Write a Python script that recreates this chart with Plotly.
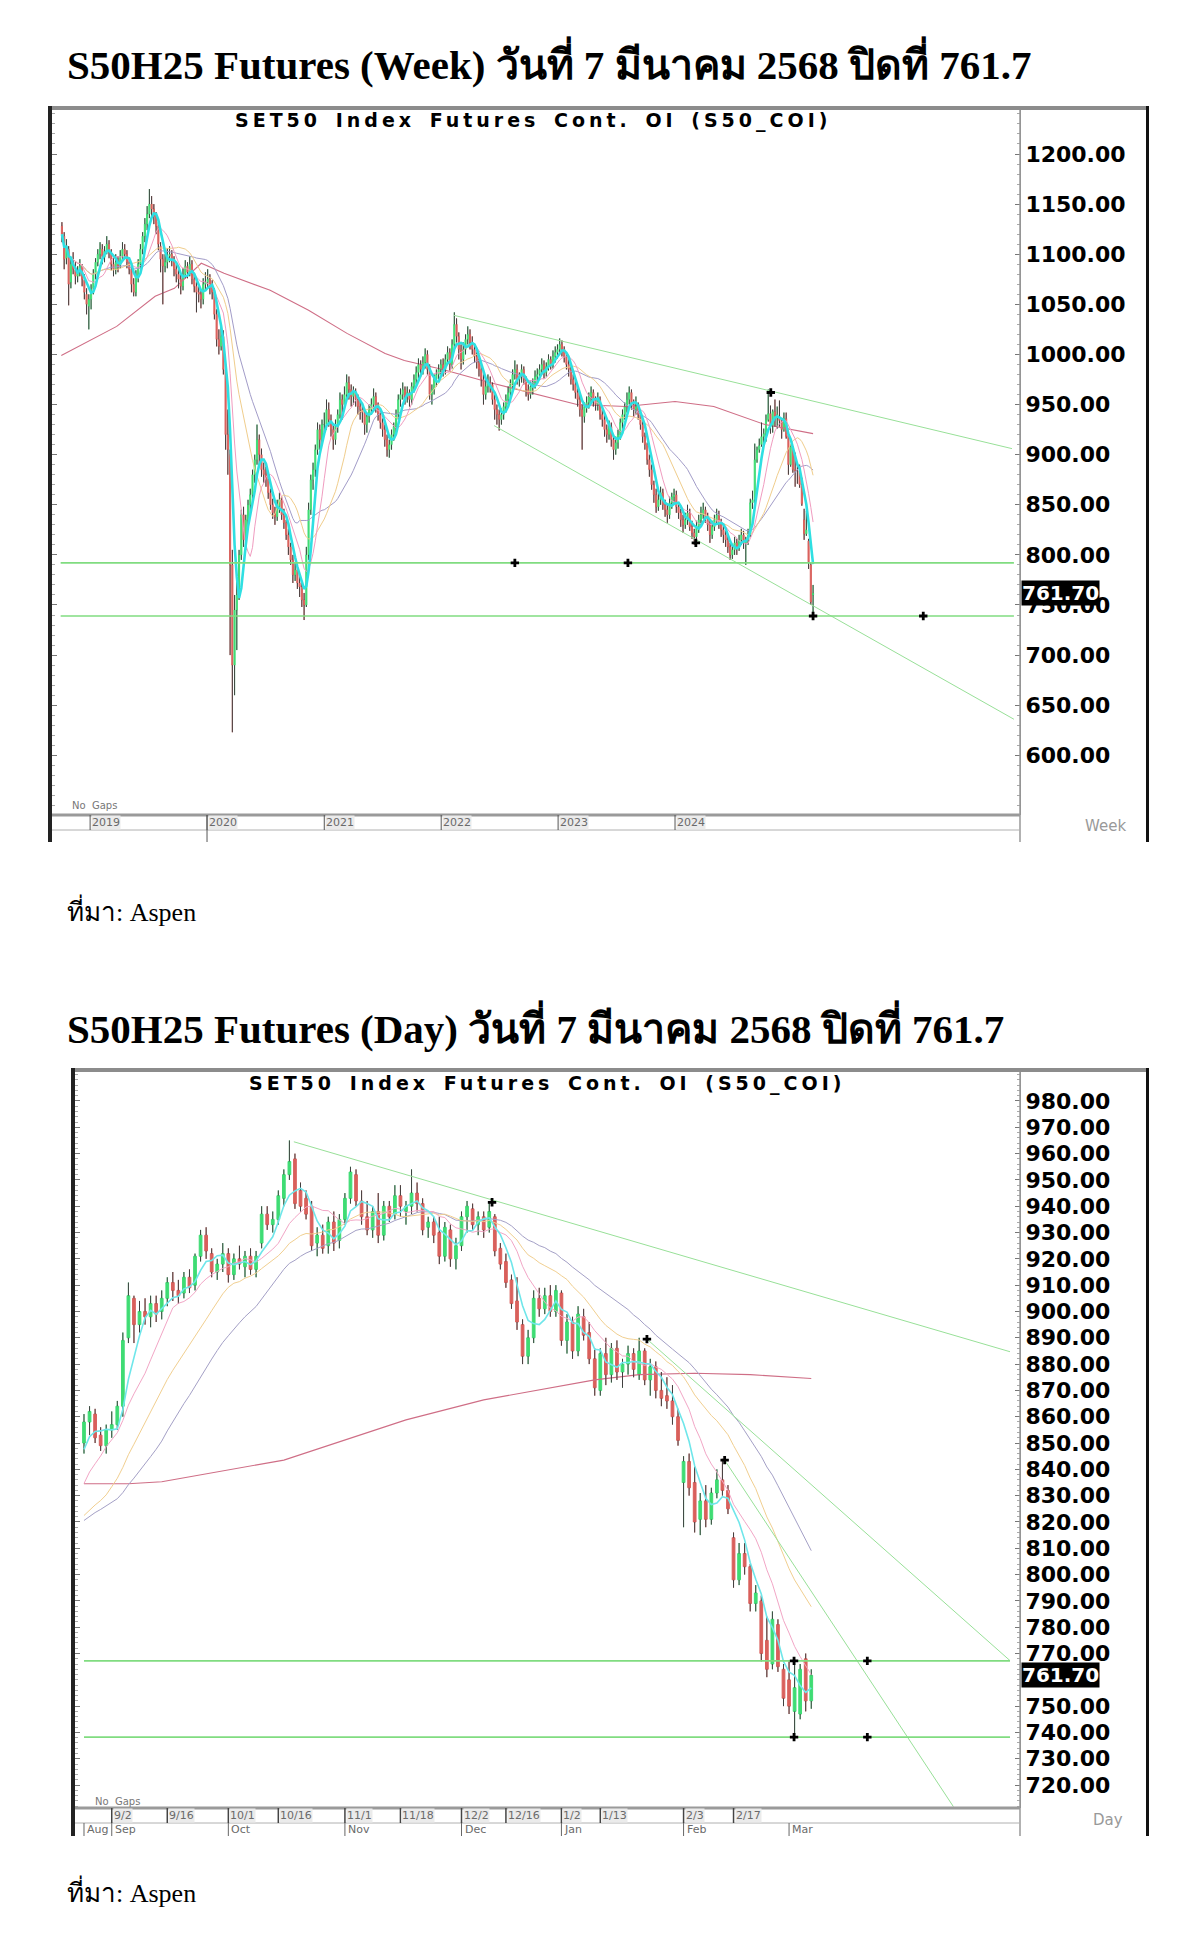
import pandas as pd
import plotly.graph_objects as go

W, H = 1200, 1936


def px(x):
    return x / W


def py(y):
    return 1 - y / H


# ---------------- WEEKLY candles (S50 continuous futures), Fridays from 2018-10-05 ----------------
w_open = [
    1128, 1118, 1096, 1105, 1072, 1090, 1084, 1078, 1083, 1087,
    1074, 1060, 1048, 1055, 1066, 1080, 1092, 1100, 1105, 1097,
    1103, 1110, 1101, 1090, 1085, 1092, 1089, 1098, 1105, 1100,
    1092, 1085, 1070, 1062, 1078, 1090, 1105, 1118, 1130, 1140,
    1150, 1145, 1138, 1128, 1108, 1095, 1088, 1092, 1098, 1100,
    1095, 1085, 1080, 1075, 1068, 1080, 1088, 1082, 1090, 1075,
    1068, 1062, 1060, 1055, 1070, 1072, 1075, 1068, 1062, 1040,
    1015, 1008, 1018, 985, 920, 900, 790, 690, 745, 760,
    800, 840, 815, 835, 850, 860, 880, 895, 915, 900,
    885, 880, 875, 862, 850, 842, 838, 848, 855, 840,
    832, 820, 808, 795, 780, 785, 772, 768, 755, 750,
    800, 845, 875, 885, 905, 925, 915, 930, 930, 945,
    935, 925, 915, 928, 940, 955, 950, 960, 972, 965,
    958, 962, 955, 948, 945, 942, 930, 938, 945, 950,
    958, 948, 940, 932, 925, 915, 905, 910, 920, 928,
    940, 955, 960, 965, 958, 962, 955, 968, 975, 982,
    990, 985, 992, 1000, 985, 960, 965, 975, 980, 985,
    990, 985, 995, 1002, 990, 1010, 1030, 1018, 1005, 995,
    1005, 1015, 1020, 1012, 1005, 998, 992, 985, 975, 960,
    968, 972, 970, 955, 945, 940, 935, 940, 948, 955,
    962, 970, 980, 985, 975, 978, 985, 975, 965, 960,
    968, 972, 978, 980, 985, 990, 982, 988, 995, 990,
    998, 1002, 1005, 1010, 1005, 998, 990, 985, 975, 970,
    962, 955, 945, 938, 948, 952, 958, 962, 955, 950,
    955, 940, 935, 925, 920, 928, 915, 905, 912, 920,
    932, 940, 948, 955, 962, 950, 945, 948, 940, 930,
    918, 910, 895, 885, 870, 860, 848, 855, 862, 850,
    845, 840, 852, 858, 860, 848, 842, 835, 830, 835,
    842, 828, 822, 818, 828, 835, 840, 845, 838, 830,
    820, 828, 835, 840, 832, 825, 820, 815, 808, 800,
    805, 812, 808, 815, 820, 812, 815, 820, 852, 855,
    895, 905, 910, 918, 921, 935, 941, 929, 943, 938,
    938, 934, 925, 936, 919, 890, 907, 885, 884, 884,
    870, 835, 821, 814, 790, 760,
]
w_high = [
    1132, 1122, 1115, 1108, 1095, 1102, 1092, 1088, 1095, 1090,
    1080, 1066, 1060, 1070, 1085, 1096, 1105, 1112, 1110, 1108,
    1118, 1114, 1105, 1096, 1100, 1098, 1104, 1112, 1110, 1104,
    1096, 1088, 1076, 1084, 1095, 1110, 1122, 1136, 1148, 1165,
    1158, 1150, 1142, 1132, 1112, 1100, 1100, 1106, 1108, 1104,
    1098, 1090, 1084, 1080, 1086, 1094, 1092, 1098, 1094, 1080,
    1072, 1068, 1064, 1076, 1082, 1085, 1080, 1074, 1066, 1045,
    1025, 1028, 1024, 990, 945, 905, 805, 760, 775, 805,
    845, 848, 840, 855, 866, 885, 900, 930, 920, 906,
    892, 888, 880, 866, 856, 848, 855, 862, 858, 846,
    835, 826, 812, 800, 792, 790, 778, 772, 762, 808,
    852, 880, 892, 910, 932, 930, 935, 942, 955, 952,
    940, 930, 935, 945, 962, 960, 968, 980, 978, 970,
    968, 966, 960, 955, 950, 946, 942, 950, 956, 966,
    962, 952, 945, 936, 930, 920, 915, 925, 932, 945,
    960, 966, 972, 968, 968, 965, 972, 980, 988, 996,
    994, 998, 1006, 1004, 990, 970, 980, 985, 990, 995,
    996, 1000, 1008, 1006, 1015, 1042, 1036, 1022, 1010, 1012,
    1020, 1028, 1025, 1018, 1010, 1002, 996, 990, 980, 975,
    980, 978, 972, 960, 950, 945, 946, 952, 960, 968,
    975, 985, 994, 990, 982, 990, 988, 978, 970, 974,
    976, 984, 986, 990, 996, 994, 992, 1000, 998, 1004,
    1008, 1010, 1016, 1014, 1008, 1002, 995, 990, 980, 974,
    966, 960, 950, 952, 958, 962, 968, 965, 958, 962,
    958, 945, 940, 930, 934, 932, 920, 918, 925, 936,
    945, 952, 962, 968, 965, 955, 958, 952, 944, 934,
    922, 912, 900, 890, 874, 866, 862, 868, 866, 855,
    850, 858, 862, 866, 864, 852, 846, 840, 842, 850,
    846, 834, 826, 834, 840, 848, 852, 848, 842, 834,
    834, 840, 846, 844, 836, 830, 824, 820, 812, 810,
    818, 816, 820, 826, 824, 818, 826, 856, 864, 911,
    908, 916, 932, 926, 940, 965, 949, 945, 955, 948,
    954, 936, 942, 942, 922, 910, 908, 902, 890, 890,
    877, 846, 844, 816, 792, 770,
]
w_low = [
    1112, 1085, 1090, 1049, 1066, 1080, 1070, 1072, 1078, 1068,
    1055, 1040, 1025, 1045, 1060, 1075, 1088, 1095, 1090, 1092,
    1100, 1096, 1084, 1078, 1080, 1082, 1086, 1094, 1095, 1086,
    1080, 1062, 1058, 1058, 1072, 1086, 1100, 1112, 1124, 1136,
    1138, 1130, 1120, 1104, 1082, 1050, 1082, 1086, 1092, 1088,
    1078, 1072, 1066, 1060, 1064, 1076, 1076, 1078, 1070, 1062,
    1042, 1052, 1046, 1050, 1064, 1066, 1060, 1055, 1035, 1008,
    1000, 1004, 980, 905, 880, 700, 623, 660, 705, 755,
    795, 808, 805, 828, 840, 855, 872, 890, 890, 878,
    872, 868, 856, 845, 836, 830, 834, 842, 835, 826,
    815, 800, 790, 772, 774, 766, 758, 748, 735, 748,
    795, 840, 865, 878, 900, 905, 910, 922, 925, 928,
    918, 905, 910, 922, 936, 935, 945, 955, 955, 948,
    950, 948, 940, 935, 932, 920, 922, 932, 940, 946,
    942, 934, 926, 918, 908, 898, 897, 905, 914, 922,
    935, 948, 955, 950, 952, 948, 950, 962, 970, 976,
    978, 980, 986, 980, 955, 950, 960, 968, 975, 980,
    978, 980, 990, 984, 986, 1006, 1012, 995, 985, 990,
    1000, 1010, 1005, 1000, 992, 986, 978, 968, 950, 955,
    962, 962, 950, 935, 930, 924, 930, 935, 942, 950,
    956, 965, 975, 970, 968, 972, 970, 958, 954, 956,
    960, 966, 972, 975, 980, 976, 978, 984, 985, 986,
    992, 996, 1000, 998, 992, 985, 978, 970, 964, 956,
    948, 938, 905, 932, 942, 946, 952, 948, 944, 944,
    935, 928, 918, 912, 915, 908, 895, 900, 906, 915,
    926, 935, 942, 950, 945, 938, 940, 935, 925, 912,
    905, 890, 878, 865, 852, 842, 844, 850, 845, 838,
    832, 836, 846, 852, 842, 836, 828, 822, 826, 830,
    824, 816, 810, 814, 822, 830, 836, 832, 824, 812,
    816, 824, 830, 826, 818, 812, 808, 802, 795, 796,
    800, 800, 804, 810, 806, 790, 810, 818, 846, 852,
    892, 902, 908, 911, 913, 933, 921, 922, 928, 926,
    928, 916, 923, 916, 880, 888, 882, 868, 871, 867,
    849, 815, 819, 786, 750, 738,
]
w_close = [
    1120, 1095, 1108, 1070, 1090, 1085, 1078, 1082, 1088, 1075,
    1062, 1050, 1055, 1065, 1080, 1092, 1100, 1105, 1098, 1103,
    1110, 1102, 1090, 1085, 1092, 1088, 1098, 1105, 1100, 1092,
    1085, 1070, 1062, 1078, 1090, 1105, 1118, 1130, 1140, 1150,
    1145, 1138, 1128, 1110, 1095, 1088, 1092, 1098, 1100, 1095,
    1085, 1080, 1075, 1068, 1080, 1088, 1082, 1090, 1075, 1068,
    1062, 1060, 1055, 1070, 1072, 1075, 1068, 1062, 1040, 1015,
    1008, 1018, 985, 920, 905, 790, 690, 745, 760, 800,
    840, 815, 835, 850, 860, 880, 895, 915, 900, 885,
    880, 875, 862, 850, 842, 838, 848, 855, 840, 832,
    820, 808, 795, 780, 785, 772, 768, 755, 750, 800,
    845, 875, 885, 905, 925, 915, 930, 930, 945, 935,
    925, 915, 928, 940, 955, 950, 960, 972, 965, 958,
    962, 955, 948, 945, 942, 930, 938, 945, 950, 958,
    948, 940, 932, 925, 915, 905, 910, 920, 928, 940,
    955, 960, 965, 958, 962, 955, 968, 975, 982, 990,
    985, 992, 1000, 985, 960, 965, 975, 980, 985, 990,
    985, 995, 1002, 990, 1010, 1030, 1018, 1005, 995, 1005,
    1015, 1020, 1012, 1005, 998, 992, 985, 975, 960, 968,
    972, 970, 955, 945, 940, 935, 940, 948, 955, 962,
    970, 980, 985, 975, 978, 985, 975, 965, 960, 968,
    972, 978, 980, 985, 990, 982, 988, 995, 990, 998,
    1002, 1005, 1010, 1005, 998, 990, 985, 975, 970, 962,
    955, 945, 938, 948, 952, 958, 962, 955, 950, 955,
    940, 935, 925, 920, 928, 915, 905, 912, 920, 932,
    940, 948, 955, 962, 950, 945, 948, 940, 930, 918,
    910, 895, 885, 870, 860, 848, 855, 862, 850, 845,
    840, 852, 858, 860, 848, 842, 835, 830, 835, 842,
    828, 822, 818, 828, 835, 840, 845, 838, 830, 820,
    828, 835, 840, 832, 825, 820, 815, 808, 800, 805,
    812, 808, 815, 820, 812, 815, 820, 852, 855, 895,
    905, 909, 918, 921, 935, 941, 929, 943, 938, 940,
    934, 925, 936, 918, 890, 908, 885, 884, 884, 870,
    851, 821, 825, 793, 753, 761.7,
]
w_dates = pd.date_range("2018-10-05", periods=len(w_close), freq="W-FRI")

# long weekly average line
wl_dates = ["2018-10-03", "2019-01-01", "2019-03-25", "2019-07-23", "2019-09-21", "2019-12-14",
            "2020-02-23", "2020-07-16", "2020-11-13", "2021-03-13", "2021-07-10", "2021-09-08",
            "2022-01-06", "2022-06-01", "2022-11-01", "2023-03-01", "2023-08-01", "2024-01-01",
            "2024-05-01", "2024-10-08", "2025-03-07"]
wl_vals = [999, 1014, 1028, 1058, 1066, 1091, 1081, 1064, 1044, 1021, 1001, 994,
           985, 972, 960, 950, 948, 953, 948, 930, 921]

# weekly drawn lines
w_upper_x = ["2022-02-10", "2026-11-18"]
w_upper_y = [1039, 906]
w_lower_x = ["2022-06-15", "2026-11-24"]
w_lower_y = [929, 636]
w_levels = [792, 739]
w_level_x = ["2018-10-01", "2026-11-24"]
w_mark_x = ["2022-08-19", "2023-08-07", "2025-03-07", "2026-02-14", "2024-03-06", "2024-10-26"]
w_mark_y = [792, 792, 739, 739, 812, 962]
w_year_ticks = ["2019-01-01", "2020-01-01", "2021-01-01", "2022-01-01", "2023-01-01", "2024-01-01"]
w_year_labels = ["2019", "2020", "2021", "2022", "2023", "2024"]
w_price_ticks = [600, 650, 700, 750, 800, 850, 900, 950, 1000, 1050, 1100, 1150, 1200]

# ---------------- DAILY candles, trading-day index 0 = 26 Aug 2024 ----------------
d_open = [
    850, 858, 861, 853, 849, 855, 857, 864, 890, 905,
    895, 900, 898, 903, 900, 905, 911, 908, 907, 913,
    910, 921, 929, 922, 915, 918, 922, 914, 920, 917,
    921, 916, 926, 937, 933, 935, 943, 952, 958, 946,
    943, 940, 926, 929, 925, 934, 927, 935, 943, 952,
    942, 936, 931, 938, 929, 940, 937, 944, 938, 940,
    945, 941, 932, 934, 930, 921, 931, 920, 925, 936,
    939, 933, 936, 932, 936, 924, 919, 912, 904, 895,
    883, 890, 905, 901, 906, 900, 907, 889, 896, 885,
    898, 892, 882, 870, 884, 876, 886, 877, 880, 884,
    876, 885, 874, 879, 870, 868, 866, 860, 835, 843,
    835, 821, 828, 821, 831, 836, 832, 814, 798, 808,
    803, 789, 790, 775, 766, 781, 764, 760, 748, 747, 768, 752,
]
d_high = [
    861, 864, 863, 856, 857, 862, 866, 892, 911, 906,
    904, 905, 906, 906, 908, 913, 915, 912, 915, 916,
    922, 931, 932, 924, 920, 926, 924, 922, 925, 923,
    924, 923, 940, 940, 938, 946, 954, 965, 960, 949,
    946, 942, 932, 933, 936, 938, 937, 945, 955, 954,
    946, 942, 940, 945, 942, 942, 948, 948, 942, 954,
    949, 943, 936, 936, 936, 934, 933, 928, 938, 942,
    941, 938, 938, 942, 937, 926, 922, 914, 913, 897,
    893, 908, 909, 909, 910, 910, 908, 899, 898, 902,
    901, 896, 886, 886, 890, 888, 889, 882, 887, 886,
    890, 886, 882, 881, 877, 875, 872, 863, 845, 846,
    841, 831, 834, 833, 840, 844, 834, 816, 812, 812,
    804, 796, 792, 784, 786, 783, 766, 767, 767, 766, 770, 764,
]
d_low = [
    846, 853, 850, 847, 846, 852, 855, 860, 888, 888,
    892, 895, 894, 896, 897, 902, 904, 903, 905, 907,
    908, 919, 920, 913, 912, 915, 911, 912, 916, 913,
    914, 913, 924, 931, 930, 933, 940, 950, 939, 938,
    935, 923, 921, 922, 922, 923, 924, 933, 941, 940,
    933, 929, 928, 926, 927, 934, 935, 936, 933, 937,
    938, 929, 928, 926, 918, 919, 917, 916, 923, 930,
    931, 929, 928, 930, 921, 916, 909, 901, 893, 880,
    880, 888, 898, 899, 898, 898, 887, 884, 882, 883,
    889, 880, 868, 868, 872, 873, 874, 871, 876, 875,
    874, 872, 868, 867, 864, 863, 857, 849, 818, 830,
    816, 815, 818, 819, 829, 830, 823, 795, 796, 800,
    786, 786, 767, 761, 764, 763, 750, 747, 738, 745, 748, 749,
]
d_close = [
    858, 862, 852, 849, 855, 857, 864, 889, 906, 895,
    900, 898, 903, 899, 905, 911, 908, 906, 913, 909,
    921, 929, 923, 915, 918, 922, 914, 920, 918, 921,
    916, 921, 937, 933, 935, 944, 952, 957, 941, 940,
    937, 925, 929, 924, 934, 926, 935, 943, 953, 942,
    936, 931, 938, 929, 940, 936, 944, 940, 940, 945,
    941, 931, 934, 929, 921, 932, 920, 925, 936, 940,
    933, 936, 931, 938, 923, 918, 911, 903, 896, 883,
    890, 905, 901, 906, 900, 908, 889, 896, 885, 899,
    891, 882, 871, 884, 876, 886, 877, 880, 884, 878,
    885, 874, 879, 870, 867, 866, 860, 851, 843, 833,
    820, 828, 821, 831, 836, 832, 825, 798, 808, 803,
    789, 793, 770, 764, 783, 765, 753, 750, 757, 764, 752, 761.7,
]
# closes of the 50 sessions before the first visible day (only feed the averages)
d_prior_close = [
    812, 806, 803, 801, 800, 802, 806, 804, 807, 805,
    808, 810, 812, 809, 812, 810, 806, 808, 811, 808,
    812, 814, 810, 813, 815, 818, 821, 819, 816, 820,
    822, 818, 816, 815, 812, 795, 800, 806, 810, 815,
    816, 818, 821, 819, 820, 830, 838, 842, 848, 852,
]
d_idx = list(range(len(d_close)))

# long daily average line
dl_idx = [0, 8, 14, 36, 58, 72, 92, 100, 110, 120, 131]
dl_vals = [834.5, 834.5, 835.3, 843.5, 858.8, 866.4, 874.0, 876.0, 876.5, 876.0, 874.5]

# daily drawn lines
d_tl1_x, d_tl1_y = [37.8, 166.8], [964.5, 884.7]
d_tl2_x, d_tl2_y = [101.4, 166.8], [889.5, 767.3]
d_tl3_x, d_tl3_y = [115.4, 156.6], [843.5, 711.8]
d_levels = [767.2, 738.2]
d_level_x = [0, 166.8]
d_mark_x = [73.5, 101.4, 115.4, 127.9, 141.1, 127.9, 141.1]
d_mark_y = [941.5, 889.5, 843.5, 767.2, 767.2, 738.2, 738.2]
d_day_ticks = [5, 15, 26, 35, 47, 57, 68, 76, 86, 93, 108, 117]
d_day_labels = ["9/2", "9/16", "10/1", "10/16", "11/1", "11/18", "12/2", "12/16", "1/2", "1/13", "2/3", "2/17"]
d_month_ticks = [0, 5, 26, 47, 68, 86, 108, 127]
d_month_labels = ["Aug", "Sep", "Oct", "Nov", "Dec", "Jan", "Feb", "Mar"]
# 760.00 sits under the last-price tag in the reference, so it is not printed
d_price_ticks = [720, 730, 740, 750, 770, 780, 790, 800, 810, 820, 830, 840, 850, 860,
                 870, 880, 890, 900, 910, 920, 930, 940, 950, 960, 970, 980]

last_close = 761.7

# ---------------- styles ----------------
UP = "#3fdc74"
DN = "#d9605c"
WICK = "#404040"
W_MA = [(30, "#a29cc8", 1), (20, "#f0cd8c", 1), (10, "#f09cc0", 1), (5, "#2fdfe2", 2.6)]
D_MA = [(30, "#a4a0c6", 1), (20, "#f1cf90", 1), (10, "#f2a6c6", 1), (5, "#6fe6ea", 1.6)]
LONG_COL = "#cf6e86"
GREEN_LINE = "#98e098"
LEVEL_LINE = "#80dc80"
TICK_FONT = dict(family="DejaVu Sans", size=22, color="black", weight="bold")

fig = go.Figure()


def wick_xy(xs, o, h, l, c):
    X, Y = [], []
    for x, oo, hh, ll, cc in zip(xs, o, h, l, c):
        top, bot = max(oo, cc), min(oo, cc)
        X += [x, x, None, x, x, None]
        Y += [hh, top, None, bot, ll, None]
    return X, Y


def add_panel(xs, o, h, l, c, ma_source, ma_offset, ma_spec, long_x, long_y, xa, ya):
    fig.add_trace(go.Scatter(x=long_x, y=long_y, mode="lines", line=dict(color=LONG_COL, width=1.1),
                             xaxis=xa, yaxis=ya, showlegend=False, hoverinfo="skip"))
    fig.add_trace(go.Candlestick(x=xs, open=o, high=h, low=l, close=c, xaxis=xa, yaxis=ya,
                                 increasing=dict(line=dict(color=UP, width=1), fillcolor=UP),
                                 decreasing=dict(line=dict(color=DN, width=1), fillcolor=DN),
                                 whiskerwidth=0, showlegend=False, hoverinfo="skip"))
    wx, wy = wick_xy(xs, o, h, l, c)
    fig.add_trace(go.Scatter(x=wx, y=wy, mode="lines", line=dict(color=WICK, width=1),
                             xaxis=xa, yaxis=ya, showlegend=False, hoverinfo="skip"))
    s = pd.Series(ma_source, dtype=float)
    for n, col, wd in ma_spec:
        ma = s.rolling(n, min_periods=1).mean().iloc[ma_offset:].tolist()
        fig.add_trace(go.Scatter(x=list(xs), y=ma, mode="lines", line=dict(color=col, width=wd),
                                 xaxis=xa, yaxis=ya, showlegend=False, hoverinfo="skip"))


# weekly panel
add_panel(list(w_dates), w_open, w_high, w_low, w_close, w_close, 0, W_MA, wl_dates, wl_vals, "x", "y")
for lx, ly in [(w_upper_x, w_upper_y), (w_lower_x, w_lower_y)]:
    fig.add_trace(go.Scatter(x=lx, y=ly, mode="lines", line=dict(color=GREEN_LINE, width=1),
                             xaxis="x", yaxis="y", showlegend=False, hoverinfo="skip"))
for lv in w_levels:
    fig.add_trace(go.Scatter(x=w_level_x, y=[lv, lv], mode="lines", line=dict(color=LEVEL_LINE, width=1.6),
                             xaxis="x", yaxis="y", showlegend=False, hoverinfo="skip"))
fig.add_trace(go.Scatter(x=w_mark_x, y=w_mark_y, mode="markers",
                         marker=dict(symbol="cross", size=7, color="black"),
                         xaxis="x", yaxis="y", showlegend=False, hoverinfo="skip"))

# daily panel
add_panel(d_idx, d_open, d_high, d_low, d_close, d_prior_close + d_close, len(d_prior_close), D_MA,
          dl_idx, dl_vals, "x2", "y2")
for lx, ly in [(d_tl1_x, d_tl1_y), (d_tl2_x, d_tl2_y), (d_tl3_x, d_tl3_y)]:
    fig.add_trace(go.Scatter(x=lx, y=ly, mode="lines", line=dict(color=GREEN_LINE, width=1),
                             xaxis="x2", yaxis="y2", showlegend=False, hoverinfo="skip"))
for lv in d_levels:
    fig.add_trace(go.Scatter(x=d_level_x, y=[lv, lv], mode="lines", line=dict(color=LEVEL_LINE, width=1.6),
                             xaxis="x2", yaxis="y2", showlegend=False, hoverinfo="skip"))
fig.add_trace(go.Scatter(x=d_mark_x, y=d_mark_y, mode="markers",
                         marker=dict(symbol="cross", size=7, color="black"),
                         xaxis="x2", yaxis="y2", showlegend=False, hoverinfo="skip"))


# ---------------- axes ----------------
def yaxis_cfg(domain, rng, ticks, minor_dtick, anchor):
    return dict(domain=domain, range=rng, side="right", anchor=anchor, tickmode="array", tickvals=ticks,
                ticktext=[f"{v:.2f}" for v in ticks], tickfont=TICK_FONT, showgrid=False, zeroline=False,
                showline=True, linecolor="#8c8c8c", linewidth=1, ticks="inside", ticklen=5,
                tickcolor="#777", mirror="ticks", fixedrange=True,
                minor=dict(tickmode="linear", tick0=0, dtick=minor_dtick, ticks="inside", ticklen=3,
                           tickcolor="#aaaaaa"))


fig.update_layout(
    width=W, height=H, margin=dict(l=0, r=0, t=0, b=0),
    paper_bgcolor="white", plot_bgcolor="white", showlegend=False,
    xaxis=dict(domain=[px(52), px(1020)], anchor="y", type="date",
               range=["2018-09-04", "2026-12-13"], showgrid=False, zeroline=False,
               showticklabels=False, ticks="", showline=False, rangeslider=dict(visible=False),
               fixedrange=True),
    yaxis=yaxis_cfg([py(815), py(110)], [540.45, 1243.9], w_price_ticks, 10, "x"),
    xaxis2=dict(domain=[px(75), px(1020)], anchor="y2", range=[-1.62, 168.6], showgrid=False,
                zeroline=False, showticklabels=False, ticks="", showline=False,
                rangeslider=dict(visible=False), fixedrange=True),
    yaxis2=yaxis_cfg([py(1808), py(1072)], [711.28, 991.02], d_price_ticks, 2, "x2"),
)

# ---------------- frames & bands ----------------
shapes = []


def rect(x0, y0, x1, y1, color):
    shapes.append(dict(type="rect", xref="paper", yref="paper", x0=px(x0), x1=px(x1), y0=py(y0), y1=py(y1),
                       fillcolor=color, line=dict(width=0), layer="above"))


def hline(x0, x1, y, color, width):
    shapes.append(dict(type="line", xref="paper", yref="paper", x0=px(x0), x1=px(x1), y0=py(y), y1=py(y),
                       line=dict(color=color, width=width), layer="above"))


def vline(x, y0, y1, color, width):
    shapes.append(dict(type="line", xref="paper", yref="paper", x0=px(x), x1=px(x), y0=py(y0), y1=py(y1),
                       line=dict(color=color, width=width), layer="above"))


for (left, top, bottom, band_top, band_mid) in [(49, 106, 842, 815, 830), (72, 1068, 1836, 1808, 1823)]:
    rect(left, top, 1149, top + 4, "#8c8c8c")
    rect(left - 1, top, left + 3, bottom, "#222222")
    rect(1146, top, 1149, bottom, "#111111")
    vline(1020, top + 4, bottom, "#999999", 1.5)
    hline(left + 3, 1020, band_top, "#9a9a9a", 3)
    hline(left + 3, 1020, band_mid, "#b0b0b0", 1)

annotations = []
LABEL_FONT = dict(family="DejaVu Sans", size=11, color="#6a6a6a")

# weekly band
for d, lab in zip(w_year_ticks, w_year_labels):
    shapes.append(dict(type="line", xref="x", yref="paper", x0=d, x1=d, y0=py(815), y1=py(830),
                       line=dict(color="#555", width=1), layer="above"))
    annotations.append(dict(xref="x", yref="paper", x=d, y=py(822.5), text=lab, showarrow=False,
                            xanchor="left", yanchor="middle", xshift=1, font=LABEL_FONT,
                            bgcolor="#ebebeb", borderpad=0))
shapes.append(dict(type="line", xref="x", yref="paper", x0="2020-01-01", x1="2020-01-01",
                   y0=py(815), y1=py(842), line=dict(color="#555", width=1), layer="above"))

# daily band
for i, lab in zip(d_day_ticks, d_day_labels):
    shapes.append(dict(type="line", xref="x2", yref="paper", x0=i, x1=i, y0=py(1808), y1=py(1823),
                       line=dict(color="#444", width=1.5), layer="above"))
    annotations.append(dict(xref="x2", yref="paper", x=i, y=py(1815.5), text=lab, showarrow=False,
                            xanchor="left", yanchor="middle", xshift=1, font=LABEL_FONT,
                            bgcolor="#ebebeb", borderpad=0))
for i, lab in zip(d_month_ticks, d_month_labels):
    shapes.append(dict(type="line", xref="x2", yref="paper", x0=i, x1=i, y0=py(1823), y1=py(1836),
                       line=dict(color="#666", width=1), layer="above"))
    annotations.append(dict(xref="x2", yref="paper", x=i, y=py(1829.5), text=lab, showarrow=False,
                            xanchor="left", yanchor="middle", xshift=1, font=LABEL_FONT))

# titles and texts
TITLE_FONT = dict(family="Liberation Serif", size=41, color="black", weight="bold")
SRC_FONT = dict(family="Liberation Serif", size=26, color="black")
annotations += [
    dict(xref="paper", yref="paper", x=px(65), y=py(62), xanchor="left", yanchor="middle", showarrow=False,
         text="S50H25 Futures (Week) วันที่ 7 มีนาคม 2568 ปิดที่ 761.7", font=TITLE_FONT),
    dict(xref="paper", yref="paper", x=px(65), y=py(1026), xanchor="left", yanchor="middle", showarrow=False,
         text="S50H25 Futures (Day) วันที่ 7 มีนาคม 2568 ปิดที่ 761.7", font=TITLE_FONT),
    dict(xref="paper", yref="paper", x=px(65), y=py(910), xanchor="left", yanchor="middle", showarrow=False,
         text="ที่มา: Aspen", font=SRC_FONT),
    dict(xref="paper", yref="paper", x=px(65), y=py(1891), xanchor="left", yanchor="middle", showarrow=False,
         text="ที่มา: Aspen", font=SRC_FONT),
]
inner = '<span style="letter-spacing:4px;word-spacing:4px">SET50 Index Futures Cont. OI (S50_COI)</span>'
for cx, cy in [(533, 120), (547, 1083)]:
    annotations.append(dict(xref="paper", yref="paper", x=px(cx), y=py(cy), xanchor="center", yanchor="middle",
                            showarrow=False, text=inner,
                            font=dict(family="DejaVu Sans", size=19, color="black", weight="bold")))
for x0, y0 in [(70, 805), (93, 1801)]:
    annotations.append(dict(xref="paper", yref="paper", x=px(x0), y=py(y0), xanchor="left", yanchor="middle",
                            showarrow=False, text="No  Gaps", font=dict(family="DejaVu Sans", size=10, color="#777")))
for txt, x0, y0 in [("Week", 1105, 826), ("Day", 1108, 1820)]:
    annotations.append(dict(xref="paper", yref="paper", x=px(x0), y=py(y0), xanchor="center", yanchor="middle",
                            showarrow=False, text=txt, font=dict(family="DejaVu Sans", size=15, color="#999")))
# last-price tags
for yr in ["y", "y2"]:
    annotations.append(dict(xref="paper", yref=yr, x=px(1021), y=last_close, xanchor="left", yanchor="middle",
                            showarrow=False, text=f"{last_close:.2f}", bgcolor="black", borderpad=0,
                            font=dict(family="DejaVu Sans", size=20, color="white", weight="bold")))

fig.update_layout(shapes=shapes, annotations=annotations)
fig.write_html("out.html", config={"displayModeBar": False},
               post_script="document.body.style.margin='0';document.body.style.padding='0';")
